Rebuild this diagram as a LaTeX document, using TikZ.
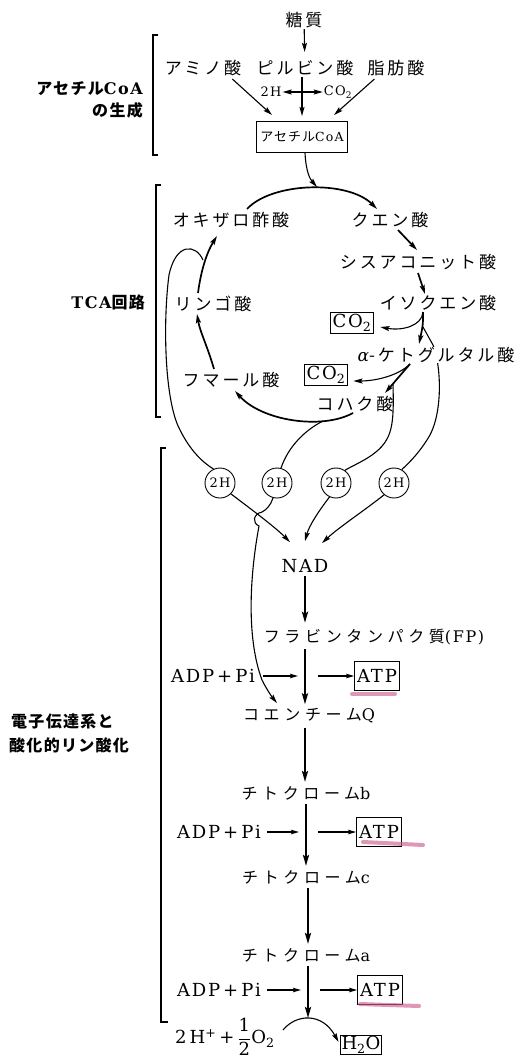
\documentclass[tikz,border=0pt]{standalone}
\usepackage{fontspec}
\setmainfont{DejaVu Serif}[LetterSpace=10]
\newfontfamily\jpa[LetterSpace=17]{Noto Sans CJK JP}
\newfontfamily\jpb[LetterSpace=29]{Noto Sans CJK JP}
\newfontfamily\jpc[LetterSpace=8]{Noto Sans CJK JP}
\usetikzlibrary{arrows.meta,calc}
\definecolor{pinkmark}{RGB}{205,95,145}
\begin{document}
\begin{tikzpicture}[x=1pt,y=-1pt,
  every node/.style={inner sep=1pt},
  lbl/.style={font=\jpa\fontsize{17}{19}\selectfont},
  ets/.style={font=\jpb\fontsize{16}{18}\selectfont},
  side/.style={font=\jpc\bfseries\fontsize{16}{18}\selectfont},
  lat/.style={font=\fontsize{18}{20}\selectfont},
  boxed/.style={draw,line width=1pt,inner sep=2.5pt},
  hcirc/.style={draw,circle,line width=0.9pt,minimum size=30pt,inner sep=0pt,font=\fontsize{13}{14}\selectfont},
  tip/.style={-{Stealth[length=9pt,width=5pt,inset=1.5pt]}},
  arr/.style={tip,line width=1.7pt},
  thinarr/.style={tip,line width=1.1pt},
  etsarr/.style={-{Stealth[length=11pt,width=6pt,inset=2pt]},line width=2.4pt},
  smallarr/.style={-{Stealth[length=8pt,width=4.5pt,inset=1.5pt]},line width=1.4pt},
  br/.style={line width=1.3pt},
  curve/.style={line width=1.1pt},
  pinkline/.style={draw=pinkmark,line width=4pt,opacity=0.65,line cap=round}
]
\useasboundingbox (0,0) rectangle (518,1059);

% ---------- section 1 : acetyl-CoA ----------
\node[lbl] (sugar) at (304,20) {糖質};
\node[lbl] (amino) at (203,68) {アミノ酸};
\node[lbl] (pyr) at (305,68) {ピルビン酸};
\node[lbl] (fat) at (396,68) {脂肪酸};
\node[boxed,minimum width=91pt,minimum height=31pt,font=\jpc\fontsize{13}{14}\selectfont] (acoa) at (302,137) {アセチル{\rmfamily\fontsize{12.5}{14}\selectfont CoA}};
\node[font=\fontsize{13}{14}\selectfont] (h2a) at (271,92) {2H};
\node[font=\fontsize{13}{14}\selectfont] (co2a) at (338,92) {CO\textsubscript{2}};
\coordinate (pb) at (302,92);

\draw[thinarr,shorten >=7pt] (sugar) -- (pyr);
\draw[thinarr,shorten >=5pt] (pyr.south -| pb) -- (acoa.north -| pb);
\draw[thinarr] (pb) -- (h2a.east);
\draw[thinarr] (pb) -- (co2a.west);
\draw[thinarr] ($(amino.south east)+(-10,2)$) -- ($(acoa.north)+(-30,-6)$);
\draw[thinarr] ($(fat.south west)+(8,2)$) -- ($(acoa.north)+(32,-6)$);

\draw[br] (158,35) -- (153,35) -- (153,155) -- (158,155);
\node[side,anchor=east] (lab1a) at (144,89) {アセチル{\rmfamily CoA}};
\node[side,anchor=east] (lab1b) at (144,110) {の生成};

% ---------- TCA cycle ----------
\node[lbl] (oxa) at (231,220) {オキザロ酢酸};
\node[lbl] (cit) at (390,220) {クエン酸};
\node[lbl] (cis) at (418,262) {シスアコニット酸};
\node[lbl] (iso) at (438,303) {イソクエン酸};
\node[boxed,lat] (co2b) at (352,323) {CO\textsubscript{2}};
\node[boxed,lat] (co2c) at (326,375) {CO\textsubscript{2}};
\node[lbl] (fum) at (231,380) {フマール酸};
\node[lbl] (suc) at (355,404) {コハク酸};
\node[lbl] (mal) at (213,304) {リンゴ酸};

\node[side,anchor=east] (lab2) at (146,302) {{\rmfamily TCA}回路};
\draw[br] (161,185) -- (156,185) -- (156,417) -- (161,417);

% 2H circles
\node[hcirc] (c1) at (220,483) {2H};
\node[hcirc] (c2) at (277,483) {2H};
\node[hcirc] (c3) at (336,483) {2H};
\node[hcirc] (c4) at (394,483) {2H};

% acetyl-CoA into cycle
\draw[thinarr] ($(acoa.south)+(3,0)$) .. controls (306,172) and (310,179) .. (317,187);
% oxaloacetate -> citrate
\draw[arr] (247,209) .. controls (272,182) and (348,180) .. (377,209);
% citrate -> cis-aconitate
\draw[arr] (398,230) -- (417,250);
% cis-aconitate -> isocitrate
\draw[arr] (418,273) -- (425,294);
% isocitrate -> a-ketoglutarate
\coordinate (isoB) at (423,312);
\draw[arr] (isoB) .. controls (423,325) .. (419,344);
\draw[thinarr] (isoB) .. controls (422,326) and (402,331) .. ($(co2b.east)+(6,4)$);
% branch to circle 4 (passes behind the label)
\draw[curve] (423,327) -- (433,345) .. controls (441,365) and (443,410) .. (430,435) .. controls (420,452) and (410,462) .. (c4.60);
\node[lbl,fill=white,inner sep=0.5pt] (akg) at (436,355) {{\rmfamily\itshape α}-ケトグルタル酸};

% a-ketoglutarate -> succinate
\coordinate (akgB) at (410,364);
\draw[arr] (akgB) -- (385,393);
\draw[thinarr] (akgB) .. controls (398,376) and (375,381) .. ($(co2c.east)+(5,6)$);
\draw[curve] (393,384) .. controls (394,425) and (393,440) .. (372,455) .. controls (362,462) and (352,466) .. (c3.55);

% succinate -> fumarate
\draw[arr] (353,413) .. controls (322,430) and (262,421) .. (235,391);
\draw[curve] (323,421) .. controls (305,430) and (288,447) .. (c2.75);

% fumarate -> malate
\draw[arr] (214,369) .. controls (207,345) and (200,332) .. (197,314);
% malate -> oxaloacetate
\draw[arr] (198,293) .. controls (201,270) and (207,252) .. (217,236);
\draw[curve] (203,260) .. controls (196,244) and (176,242) .. (169,275) .. controls (163,320) and (164,400) .. (180,430) .. controls (190,450) and (202,462) .. (c1.115);

% ---------- electron transport ----------
\node[lat] (nad) at (305,566) {NAD};
\node[ets] (fp) at (374,637) {フラビンタンパク質{\rmfamily(FP)}};
\node[ets] (q) at (309,716) {コエンチーム{\rmfamily Q}};
\node[ets] (cb) at (306,793) {チトクローム{\rmfamily b}};
\node[ets] (cc) at (306,877) {チトクローム{\rmfamily c}};
\node[ets] (ca) at (306,955) {チトクローム{\rmfamily a}};

% circles -> NAD / Q
\draw[thinarr] (c1.-45) .. controls (255,512) and (276,528) .. ($(nad.north)+(-15,-16)$);
\draw[thinarr] (c2.-105) .. controls (271,505) and (266,510) .. (262,512) .. controls (253,514) and (252,523) .. (259,526) .. controls (249,580) and (247,640) .. (262,680) .. controls (267,690) and (272,697) .. (277,703);
\draw[thinarr] (c3.-115) .. controls (318,512) and (309,526) .. ($(nad.north)+(0,-17)$);
\draw[thinarr] (c4.-130) .. controls (365,510) and (338,528) .. ($(nad.north)+(17,-15)$);

\draw[etsarr,shorten >=5pt,shorten <=2pt] (nad.south) -- (nad.south |- fp.north);
\draw[etsarr,shorten >=3pt,shorten <=3pt] (fp.south -| nad) -- (q.north -| nad);
\draw[etsarr,shorten >=3pt,shorten <=3pt] (q.south -| nad) -- (cb.north -| nad);
\draw[etsarr,shorten >=3pt,shorten <=3pt] ($(cb.south -| nad)+(1,0)$) -- ($(cc.north -| nad)+(1,0)$);
\draw[etsarr,shorten >=3pt,shorten <=3pt] ($(cc.south -| nad)+(3,0)$) -- ($(ca.north -| nad)+(3,0)$);
\coordinate (wend) at (308,1018);
\draw[etsarr,shorten <=3pt] ($(ca.south -| nad)+(3,0)$) -- (wend);

\node[lat] (adp1) at (213,676) {ADP\,+\,Pi};
\node[lat] (adp2) at (219,832) {ADP\,+\,Pi};
\node[lat] (adp3) at (219,990) {ADP\,+\,Pi};
\node[boxed,lat,minimum height=29pt] (atp1) at (377,676) {ATP};
\node[boxed,lat,minimum height=29pt] (atp2) at (379,832) {ATP};
\node[boxed,lat,minimum height=29pt] (atp3) at (380,990) {ATP};
\coordinate (m1) at (306,676);
\coordinate (m2) at (306,832);
\coordinate (m3) at (308,990);
\draw[smallarr,shorten <=7pt,shorten >=8pt] (adp1.east) -- (m1);
\draw[smallarr,shorten <=12pt] (m1) -- (atp1.west);
\draw[smallarr,shorten <=5pt,shorten >=7pt] (adp2.east) -- (m2);
\draw[smallarr,shorten <=12pt] (m2) -- (atp2.west);
\draw[smallarr,shorten <=5pt,shorten >=7pt] (adp3.east) -- (m3);
\draw[smallarr,shorten <=12pt] (m3) -- (atp3.west);

\draw[pinkline] (352,694) -- (395,694);
\draw[pinkline] (363,842) -- (423,845);
\draw[pinkline] (360,1004) -- (419,1006);

\node[lat,anchor=west] (ox) at (174,1037) {2\,H\textsuperscript{+}\,+\,$\displaystyle\frac{\mbox{1}}{\mbox{2}}$O\textsubscript{2}};
\node[boxed,lat,inner sep=1.5pt] (h2o) at (361,1045) {H\textsubscript{2}O};
\draw[thinarr] (283,1030) .. controls (296,1014) and (322,1012) .. ($(h2o.west)+(-1,-3)$);

\draw[br] (166,448) -- (161,448) -- (161,1022) -- (168,1022);
\node[side,anchor=west] (lab3a) at (10,721) {電子伝達系と};
\node[side,anchor=west] (lab3b) at (8,745) {酸化的リン酸化};
\end{tikzpicture}
\end{document}
